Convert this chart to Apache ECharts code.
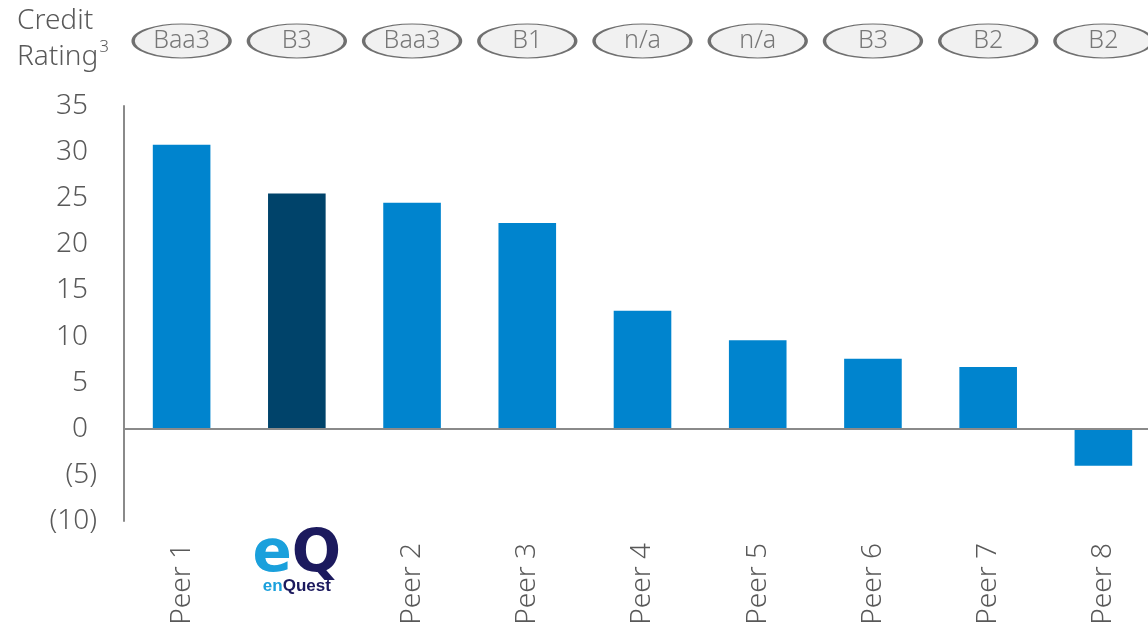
<!DOCTYPE html>
<html>
<head>
<meta charset="utf-8">
<script src="https://cdn.jsdelivr.net/npm/echarts@6/dist/echarts.min.js"></script>
<style>
  html, body { margin: 0; padding: 0; background: #fff; }
  #chart { width: 1148px; height: 626px; }
</style>
</head>
<body>
<div id="chart"></div>
<script>
// Companies, in plotted order
const categories = ['Peer 1', 'EnQuest', 'Peer 2', 'Peer 3', 'Peer 4', 'Peer 5', 'Peer 6', 'Peer 7', 'Peer 8'];
// Bar values
const values = [30.8, 25.5, 24.5, 22.3, 12.8, 9.6, 7.6, 6.7, -4.0];
// Credit ratings shown in the ovals above each bar
const ratings = ['Baa3', 'B3', 'Baa3', 'B1', 'n/a', 'n/a', 'B3', 'B2', 'B2'];
// Value axis range
const yMin = -10, yMax = 35, yStep = 5;
const highlight = 'EnQuest';

const FONT = '"Noto Sans", "Open Sans", sans-serif';
const GREY = '#595959';
const BLUE = '#0084CE';
const NAVY = '#00436A';

const chart = echarts.init(document.getElementById('chart'));

const grid = { left: 124, width: 1037, top: 106, height: 415, outerBoundsMode: 'none' };

const option = {
  animation: false,
  backgroundColor: '#fff',
  textStyle: { fontFamily: FONT },
  grid: [
    grid,
    { left: grid.left, width: grid.width, top: 22, height: 38, outerBoundsMode: 'none' }
  ],
  xAxis: [
    {
      type: 'category', gridIndex: 0, data: categories,
      axisLine: { show: false }, axisTick: { show: false },
      axisLabel: {
        rotate: 90, margin: 22, color: GREY, fontSize: 28, fontWeight: 300, fontFamily: FONT,
        interval: 0,
        formatter: v => v === highlight ? '' : v
      }
    },
    {
      type: 'category', gridIndex: 1, data: categories,
      axisLine: { show: false }, axisTick: { show: false }, axisLabel: { show: false }
    }
  ],
  yAxis: [
    {
      type: 'value', gridIndex: 0, min: yMin, max: yMax, interval: yStep,
      splitLine: { show: false },
      axisTick: { show: false },
      axisLine: { show: true, lineStyle: { color: '#8a8a8a', width: 2 } },
      axisLabel: {
        margin: 27, color: GREY, fontSize: 28, fontWeight: 300, fontFamily: FONT,
        formatter: v => v < 0 ? '{n|(' + Math.abs(v) + ')}' : '{p|' + v + '}',
        rich: {
          p: { color: GREY, fontSize: 28, fontWeight: 300, fontFamily: FONT, padding: [0, 9, 0, 0] },
          n: { color: GREY, fontSize: 28, fontWeight: 300, fontFamily: FONT }
        }
      }
    },
    { type: 'value', gridIndex: 1, min: 0, max: 1, show: false }
  ],
  series: [
    {
      type: 'bar', xAxisIndex: 0, yAxisIndex: 0, barWidth: '50%',
      data: values.map((v, i) => ({
        value: v,
        itemStyle: { color: categories[i] === highlight ? NAVY : BLUE }
      })),
      markLine: {
        silent: true, symbol: 'none', label: { show: false },
        lineStyle: { color: '#8a8a8a', width: 2, type: 'solid' },
        data: [{ yAxis: 0 }]
      }
    },
    {
      type: 'scatter', xAxisIndex: 1, yAxisIndex: 1,
      symbol: 'circle', symbolSize: [97, 34],
      itemStyle: { color: '#eeeeee', borderColor: '#4d4d4d', borderWidth: 2 },
      label: {
        show: true, position: 'inside', color: GREY, fontSize: 25, fontWeight: 300, fontFamily: FONT,
        formatter: p => ratings[p.dataIndex]
      },
      data: categories.map(c => [c, 0.5])
    }
  ]
};

chart.setOption(option);

// EnQuest wordmark placed under its own bar slot
const cx = chart.convertToPixel({ xAxisIndex: 0 }, highlight);
const baseY = chart.convertToPixel({ yAxisIndex: 0 }, yMin);
chart.setOption({
  graphic: [
    {
      type: 'text', left: 17, top: 3,
      style: {
        text: 'Credit\n{r|Rating}{s|3}',
        font: '300 28px ' + FONT, fill: GREY, lineHeight: 36,
        rich: {
          r: { fontSize: 28, fontWeight: 300, fontFamily: FONT, fill: GREY, lineHeight: 36 },
          s: { fontSize: 17, fontWeight: 300, fontFamily: FONT, fill: GREY, verticalAlign: 'top', padding: [0, 0, 8, 1] }
        }
      }
    },
    {
      type: 'text', x: cx, y: baseY + 6,
      style: {
        text: '{e|e}{q|Q}',
        align: 'center', verticalAlign: 'top',
        rich: {
          e: { fontSize: 58, fontWeight: 'bold', fontFamily: 'DejaVu Sans', fill: '#1aa0dc' },
          q: { fontSize: 58, fontWeight: 'bold', fontFamily: 'DejaVu Sans', fill: '#1c1a5e' }
        }
      }
    },
    {
      type: 'text', x: cx, y: baseY + 57,
      style: {
        text: '{e|en}{q|Quest}',
        align: 'center', verticalAlign: 'top',
        rich: {
          e: { fontSize: 17, fontWeight: 'bold', fontFamily: 'Liberation Sans', fill: '#1aa0dc' },
          q: { fontSize: 17, fontWeight: 'bold', fontFamily: 'Liberation Sans', fill: '#1c1a5e' }
        }
      }
    }
  ]
});
</script>
</body>
</html>
